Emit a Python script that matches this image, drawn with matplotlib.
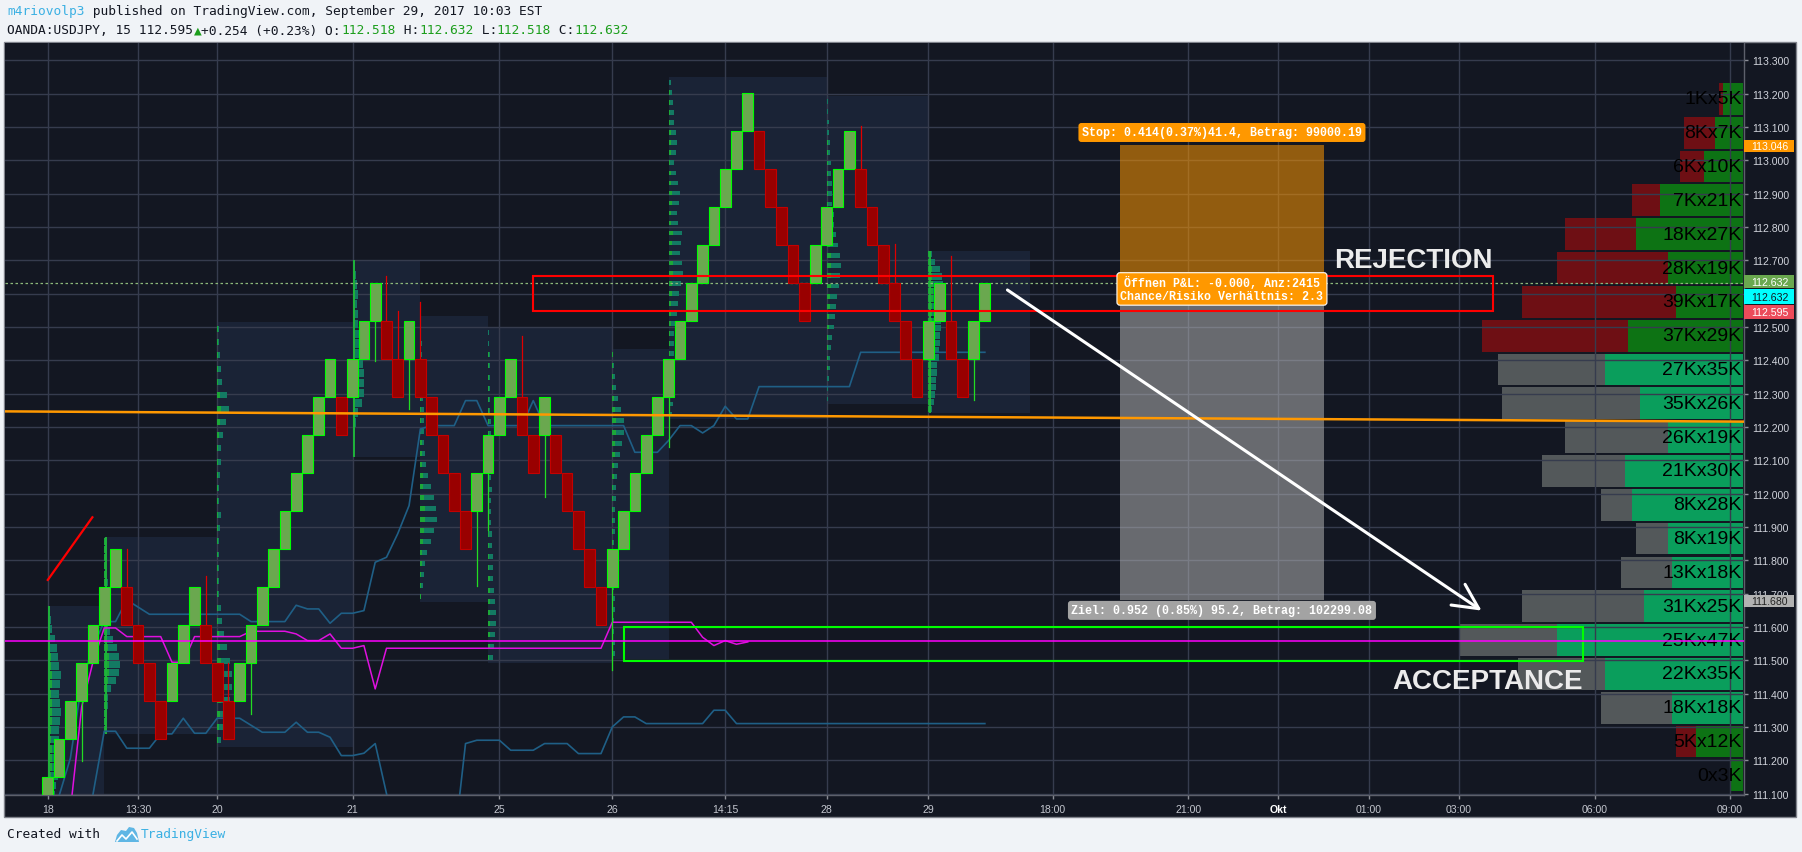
import matplotlib
matplotlib.use("Agg")
import matplotlib.pyplot as plt
import matplotlib.transforms as mtransforms
from matplotlib.patches import Rectangle, Polygon

plt.rcParams['font.family'] = ['Liberation Sans', 'DejaVu Sans']

# ---------------- Renko bricks, OANDA:USDJPY ----------------
brick_open = [111.036, 111.150, 111.264, 111.378, 111.492, 111.606, 111.720,
              111.720, 111.606, 111.492, 111.378,
              111.378, 111.492, 111.606,
              111.606, 111.492, 111.378,
              111.378, 111.492, 111.606, 111.720, 111.834, 111.948, 112.062, 112.176, 112.290,
              112.290,
              112.290, 112.404, 112.518,
              112.518, 112.404,
              112.404,
              112.404, 112.290, 112.176, 112.062, 111.948,
              111.948, 112.062, 112.176, 112.290,
              112.290, 112.176,
              112.176,
              112.176, 112.062, 111.948, 111.834, 111.720,
              111.720, 111.834, 111.948, 112.062, 112.176, 112.290, 112.404, 112.518, 112.632,
              112.746, 112.860, 112.974, 113.088,
              113.088, 112.974, 112.860, 112.746, 112.632,
              112.632, 112.746, 112.860, 112.974,
              112.974, 112.860, 112.746, 112.632, 112.518, 112.404,
              112.404, 112.518,
              112.518, 112.404,
              112.404, 112.518]
brick_close = [111.150, 111.264, 111.378, 111.492, 111.606, 111.720, 111.834,
               111.606, 111.492, 111.378, 111.264,
               111.492, 111.606, 111.720,
               111.492, 111.378, 111.264,
               111.492, 111.606, 111.720, 111.834, 111.948, 112.062, 112.176, 112.290, 112.404,
               112.176,
               112.404, 112.518, 112.632,
               112.404, 112.290,
               112.518,
               112.290, 112.176, 112.062, 111.948, 111.834,
               112.062, 112.176, 112.290, 112.404,
               112.176, 112.062,
               112.290,
               112.062, 111.948, 111.834, 111.720, 111.606,
               111.834, 111.948, 112.062, 112.176, 112.290, 112.404, 112.518, 112.632, 112.746,
               112.860, 112.974, 113.088, 113.202,
               112.974, 112.860, 112.746, 112.632, 112.518,
               112.746, 112.860, 112.974, 113.088,
               112.860, 112.746, 112.632, 112.518, 112.404, 112.290,
               112.518, 112.632,
               112.404, 112.290,
               112.518, 112.632]

# wick extremes (brick index, price)
wick_bar = [3, 7, 14, 16, 18, 29, 30, 31, 32, 33, 38, 39, 42, 44, 50, 55, 72, 75, 80, 82]
wick_price = [111.199, 111.834, 111.752, 111.492, 111.339, 112.399, 112.654, 112.548, 112.254,
              112.575, 111.724, 111.891, 112.473, 111.991, 111.470, 112.140, 113.102, 112.749,
              112.714, 112.282]

# axes labels
price_ticks = [111.1, 111.2, 111.3, 111.4, 111.5, 111.6, 111.7, 111.8, 111.9, 112.0, 112.1, 112.2,
               112.3, 112.4, 112.5, 112.6, 112.7, 112.8, 112.9, 113.0, 113.1, 113.2, 113.3]
time_tick_bar = [0, 8, 15, 27, 40, 50, 60, 69, 78, 89, 101, 109, 117, 125, 137, 149]
time_tick_label = ['18', '13:30', '20', '21', '25', '26', '14:15', '28', '29', '18:00', '21:00',
                   'Okt', '01:00', '03:00', '06:00', '09:00']

# visible range volume profile, rows top -> bottom (thousands)
vp_down = [1, 8, 6, 7, 18, 28, 39, 37, 27, 35, 26, 21, 8, 8, 13, 31, 25, 22, 18, 5, 0]
vp_up = [5, 7, 10, 21, 27, 19, 17, 29, 35, 26, 19, 30, 28, 19, 18, 25, 47, 35, 18, 12, 3]
vp_value_area = [False] * 8 + [True] * 11 + [False] * 2
vp_low, vp_high = 111.104, 113.235

# session volume profiles
session_start = [0, 5, 15, 27, 33, 39, 50, 55, 69, 78]
session_end = [5, 15, 27, 33, 39, 50, 55, 69, 78, 87]
session_low = [111.0, 111.279, 111.240, 112.110, 111.675, 111.492, 111.503, 112.224, 112.269, 112.242]
session_high = [111.662, 111.869, 112.514, 112.701, 112.534, 112.501, 112.434, 113.249, 113.192, 112.729]
session_solid = [True, True, False, True, False, False, False, False, False, True]
session_profile = [
    [0.5, 0.5, 0.6, 0.6, 0.7, 0.9, 1.1, 1.2, 1.1, 1.0, 1.0, 1.1, 1.2, 1.1, 1.0, 1.1, 1.2, 1.0,
     0.9, 0.8, 0.6, 0.4, 0.3, 0.2],
    [0.2, 0.2, 0.2, 0.3, 0.3, 0.6, 1.0, 1.3, 1.4, 1.3, 1.1, 0.8, 0.5, 0.3, 0.3, 0.2, 0.2, 0.3,
     0.3, 0.2, 0.2, 0.2, 0.2, 0.2],
    [0.3, 0.5, 0.8, 1.1, 1.3, 1.3, 1.1, 0.9, 0.6, 0.4, 0.3, 0.2, 0.2, 0.15, 0.2, 0.2, 0.25, 0.3,
     0.2, 0.2, 0.25, 0.3, 0.3, 0.5, 0.8, 1.05, 0.9, 0.4, 0.3, 0.25, 0.2, 0.15],
    [0.1, 0.15, 0.2, 0.3, 0.5, 0.8, 1.0, 1.05, 1.0, 0.9, 0.8, 0.7, 0.6, 0.5, 0.45, 0.4, 0.45,
     0.4, 0.3, 0.2],
    [0.1, 0.2, 0.3, 0.4, 0.6, 0.9, 1.2, 1.5, 1.4, 1.2, 0.9, 0.7, 0.5, 0.4, 0.35, 0.3, 0.3, 0.3,
     0.25, 0.2, 0.2, 0.2, 0.15, 0.15, 0.1, 0.1],
    [0.4, 0.5, 0.6, 0.7, 0.7, 0.6, 0.5, 0.45, 0.4, 0.4, 0.35, 0.35, 0.3, 0.3, 0.3, 0.35, 0.3,
     0.3, 0.25, 0.25, 0.3, 0.25, 0.2, 0.2, 0.2, 0.2, 0.15, 0.15, 0.1, 0.1],
    [0.2, 0.2, 0.15, 0.15, 0.2, 0.2, 0.15, 0.15, 0.1, 0.1, 0.15, 0.2, 0.2, 0.25, 0.3, 0.3, 0.4,
     0.5, 0.7, 0.9, 1.05, 1.0, 0.8, 0.5, 0.3, 0.2, 0.15, 0.1],
    [0.3, 0.4, 0.4, 0.5, 0.4, 0.5, 0.45, 0.5, 0.5, 0.6, 0.7, 0.8, 0.9, 1.1, 1.3, 1.2, 1.0, 1.1,
     1.2, 0.8, 0.7, 0.9, 1.0, 0.8, 0.6, 0.5, 0.6, 0.7, 0.6, 0.5, 0.5, 0.4, 0.3, 0.2],
    [0.1, 0.15, 0.2, 0.3, 0.3, 0.4, 0.5, 0.6, 0.7, 0.8, 0.9, 1.1, 1.2, 1.3, 1.2, 1.0, 0.8, 0.6,
     0.6, 0.5, 0.5, 0.45, 0.4, 0.35, 0.3, 0.25, 0.2, 0.2, 0.15, 0.1],
    [0.3, 0.5, 0.6, 0.7, 0.7, 0.8, 0.8, 0.9, 0.9, 1.0, 1.0, 1.1, 1.1, 1.2, 1.2, 1.3, 1.3, 1.3,
     1.2, 1.0, 0.6, 0.3],
]

# indicator lines (bar index, price)
band_upper_bar = [0, 2, 3, 4, 5, 6, 7, 9, 17, 18, 21, 22, 23, 24, 25, 26, 27, 28, 29, 30, 31,
                  32, 33, 34, 36, 37, 38, 39, 42, 43, 44, 51, 52, 54, 55, 56, 57, 58, 59, 60,
                  61, 62, 63, 71, 72, 83]
band_upper_price = [110.98, 111.206, 111.43, 111.54, 111.616, 111.616, 111.681, 111.638,
                    111.638, 111.616, 111.616, 111.665, 111.654, 111.654, 111.611, 111.641,
                    111.641, 111.649, 111.794, 111.809, 111.88, 111.964, 112.194, 112.204,
                    112.204, 112.279, 112.279, 112.204, 112.204, 112.279, 112.204, 112.204,
                    112.124, 112.124, 112.16, 112.204, 112.204, 112.182, 112.204, 112.262,
                    112.224, 112.224, 112.321, 112.321, 112.424, 112.424]
band_lower_bar = [3, 4, 5, 6, 7, 9, 10, 11, 12, 13, 14, 15, 17, 19, 21, 22, 23, 24, 25, 26,
                  27, 28, 29, 30, 31, 36, 37, 38, 40, 41, 43, 44, 46, 47, 49, 50, 51, 52, 53,
                  58, 59, 60, 61, 83]
band_lower_price = [110.95, 111.097, 111.287, 111.287, 111.236, 111.236, 111.279, 111.279,
                    111.326, 111.281, 111.281, 111.326, 111.326, 111.284, 111.284, 111.314,
                    111.284, 111.284, 111.269, 111.214, 111.214, 111.221, 111.25, 111.10,
                    110.95, 110.95, 111.25, 111.26, 111.26, 111.23, 111.23, 111.25, 111.25,
                    111.22, 111.22, 111.30, 111.33, 111.33, 111.31, 111.31, 111.35, 111.35,
                    111.31, 111.31]
vwap_bar = [2, 3, 4, 5, 6, 7, 10, 11, 12, 13, 17, 18, 21, 22, 23, 24, 25, 26, 27, 28, 29, 30,
            49, 50, 57, 58, 59, 60, 61, 62]
vwap_price = [111.05, 111.36, 111.494, 111.597, 111.597, 111.571, 111.571, 111.494, 111.494,
              111.571, 111.571, 111.587, 111.587, 111.579, 111.559, 111.559, 111.579, 111.536,
              111.536, 111.544, 111.414, 111.536, 111.536, 111.614, 111.614, 111.569, 111.544,
              111.559, 111.548, 111.555]

# drawings
last_price = 112.632
cyan_level = 112.632
prev_level = 112.595
trend_points = [(0, 112.246), (150, 112.216)]
support_level = 111.557
slash_bar = [0, 3.95]
slash_price = [111.741, 111.929]
rejection_zone = (43, 128, 112.547, 112.652)
acceptance_zone = (51, 136, 111.497, 111.601)
arrow_from = (85, 112.611)
arrow_to = (127, 111.649)

# short position tool
entry_price = 112.632
stop_dist = 0.414
target_dist = 0.952
tool_bars = (95, 113)

# ---------------- figure ----------------
FW, FH = 1802.0, 853.0
fig = plt.figure(figsize=(FW / 100, FH / 100), dpi=100)
fig.patch.set_facecolor('#f0f3f7')

fig.add_artist(Rectangle((4 / FW, 1 - 818 / FH), 1792 / FW, 775 / FH, transform=fig.transFigure,
                         facecolor='#131722', edgecolor='#80838c', linewidth=1.0, zorder=0))

ax = fig.add_axes([5 / FW, 1 - 796 / FH, 1739 / FW, 752 / FH])
ax.set_facecolor('#131722')
ax.set_xlim(-3.79, 150.24)
ax.set_ylim(111.0957, 113.352)
ax.set_axisbelow(True)
for side in ('top', 'left'):
    ax.spines[side].set_visible(False)
for side in ('right', 'bottom'):
    ax.spines[side].set_color('#5d606b')
    ax.spines[side].set_linewidth(1.0)

ax.yaxis.tick_right()
ax.set_yticks(price_ticks)
ax.set_yticklabels([f'{p:.3f}' for p in price_ticks])
ax.set_xticks(time_tick_bar)
ax.set_xticklabels(time_tick_label)
ax.tick_params(axis='y', length=3, width=1, color='#8a8d96', labelcolor='#d1d4dc',
               labelsize=7.6, pad=2.6)
ax.tick_params(axis='x', length=3, width=1, color='#8a8d96', labelcolor='#c3c6ce',
               labelsize=7.6, pad=3.2)
for lbl in ax.get_xticklabels():
    if lbl.get_text() == 'Okt':
        lbl.set_fontweight('bold')
        lbl.set_color('white')
ax.grid(True, color='#363c4e', linewidth=1.0)

ppx = 752.0 / (113.352 - 111.0957)   # pixels per price unit
bar_px = 1739.0 / (150.24 + 3.79)    # pixels per bar

# session boxes and their volume profiles
for s0, s1, lo, hi, solid, prof in zip(session_start, session_end, session_low, session_high,
                                       session_solid, session_profile):
    ax.add_patch(Rectangle((s0, lo), s1 - s0, hi - lo, facecolor='#1a2336', edgecolor='none',
                           zorder=0.2))
    n = len(prof)
    step = (hi - lo) / n
    centers = [lo + (k + 0.5) * step for k in range(n)]
    fill = 0.85 if solid else 0.45
    ax.barh(centers, prof, height=step * fill, left=s0, color='#137a63', edgecolor='none',
            zorder=1.0)
    ax.barh(centers, [v * 0.3 for v in prof], height=step * fill, left=s0, color='#1ca838',
            edgecolor='none', zorder=1.05)
    if solid:
        ax.plot([s0 + 0.12, s0 + 0.12], [lo, hi], color='#1fb33a', lw=1.4, zorder=1.1,
                solid_capstyle='butt')

# right-hand volume profile
vp_trans = mtransforms.blended_transform_factory(ax.transAxes, ax.transData)
k_frac = 3.95 / 1739.0
vp_right = 1738.0 / 1739.0
row_h = (vp_high - vp_low) / len(vp_up)
for r, (dn, up, va) in enumerate(zip(vp_down, vp_up, vp_value_area)):
    top = vp_high - r * row_h
    y0 = top - row_h + 0.03 * row_h
    c_up, c_dn = ('#0a9e5c', '#53585a') if va else ('#0d7314', '#6e0f14')
    ax.add_patch(Rectangle((vp_right - up * k_frac, y0), up * k_frac, row_h * 0.94,
                           transform=vp_trans, facecolor=c_up, edgecolor='none', zorder=0.4))
    ax.add_patch(Rectangle((vp_right - (up + dn) * k_frac, y0), dn * k_frac, row_h * 0.94,
                           transform=vp_trans, facecolor=c_dn, edgecolor='none', zorder=0.4))
    label = (f'{dn}K' if dn else '0') + 'x' + (f'{up}K' if up else '0')
    ax.text(1736.5 / 1739.0, top - row_h / 2, label, transform=vp_trans, ha='right',
            va='center', fontsize=14, color='black', zorder=4.4)

# indicator lines
ax.plot(band_upper_bar, band_upper_price, color='#1f5f86', lw=1.2, zorder=1.5)
ax.plot(band_lower_bar, band_lower_price, color='#1f5f86', lw=1.2, zorder=1.5)
ax.plot(vwap_bar, vwap_price, color='#e010e0', lw=1.1, zorder=1.6)

# position tool
stop_price = entry_price + stop_dist
target_price = entry_price - target_dist
tx0, tx1 = tool_bars
tmid = (tx0 + tx1) / 2
ax.add_patch(Rectangle((tx0, entry_price), tx1 - tx0, stop_dist, facecolor='#ff9800',
                       alpha=0.54, edgecolor='none', zorder=2))
ax.add_patch(Rectangle((tx0, target_price), tx1 - tx0, target_dist, facecolor='#bdbdbd',
                       alpha=0.5, edgecolor='none', zorder=2))
lab_font = dict(family=['Liberation Mono', 'DejaVu Sans Mono'], fontweight='bold', fontsize=8.4,
                color='white', ha='center', va='center', zorder=7)
ax.annotate(f'Stop: {stop_dist:.3f}(0.37%)41.4, Betrag: 99000.19', xy=(tmid, stop_price),
            xytext=(0, 9), textcoords='offset points',
            bbox=dict(boxstyle='round,pad=0.3,rounding_size=0.25', fc='#ff9800', ec='none'),
            **lab_font)
ax.annotate('Öffnen P&L: -0.000, Anz:2415\nChance/Risiko Verhältnis: 2.3',
            xy=(tmid, entry_price), xytext=(0, -4.3), textcoords='offset points',
            linespacing=1.05,
            bbox=dict(boxstyle='round,pad=0.3,rounding_size=0.25', fc='#ff9800', ec='white',
                      lw=0.8), **lab_font)
ax.annotate(f'Ziel: {target_dist:.3f} (0.85%) 95.2, Betrag: 102299.08', xy=(tmid, target_price),
            xytext=(0, -7.3), textcoords='offset points',
            bbox=dict(boxstyle='round,pad=0.3,rounding_size=0.25', fc='#a3a3a3', ec='none'),
            **lab_font)

# bricks and wicks
idx = list(range(len(brick_close)))
is_up = [c > o for o, c in zip(brick_open, brick_close)]
ax.bar(idx, [abs(c - o) for o, c in zip(brick_open, brick_close)],
       bottom=[min(o, c) for o, c in zip(brick_open, brick_close)], width=0.95,
       color=['#6aa84f' if u else '#990000' for u in is_up],
       edgecolor=['#00ff00' if u else '#c40000' for u in is_up], linewidth=0.8, zorder=3)
for b, p in zip(wick_bar, wick_price):
    o, c = brick_open[b], brick_close[b]
    edge = max(o, c) if p > max(o, c) else min(o, c)
    ax.plot([b, b], [edge, p], color='#22dd22' if is_up[b] else '#e00000', lw=0.9, zorder=2.9)

# lines and zones
ax.axhline(last_price, color='#8db87a', lw=0.9, ls=(0, (2, 2)), zorder=2.5)
ax.axline(trend_points[0], trend_points[1], color='#ff9800', lw=1.8, zorder=4)
ax.axhline(support_level, color='#ff00ff', lw=1.1, zorder=4.6)
ax.plot(slash_bar, slash_price, color='#ff0000', lw=1.6, zorder=4)
rx0, rx1, rlo, rhi = rejection_zone
ax.add_patch(Rectangle((rx0, rlo), rx1 - rx0, rhi - rlo, fill=False, edgecolor='#ff0000',
                       lw=1.5, zorder=4))
ax0, ax1, alo, ahi = acceptance_zone
ax.add_patch(Rectangle((ax0, alo), ax1 - ax0, ahi - alo, fill=False, edgecolor='#00ff00',
                       lw=1.5, zorder=4))
ax.annotate('REJECTION', xy=(rx1, rhi), xytext=(0, 6.5), textcoords='offset points',
            ha='right', va='baseline', fontsize=20, fontweight='bold', color='#ececec', zorder=5)
ax.annotate('ACCEPTANCE', xy=(ax1, alo), xytext=(0, -19.4), textcoords='offset points',
            ha='right', va='baseline', fontsize=20, fontweight='bold', color='#ececec', zorder=5)
ax.annotate('', xy=arrow_to, xytext=arrow_from,
            arrowprops=dict(arrowstyle='->,head_length=0.9,head_width=0.45', color='white',
                            lw=2.2, mutation_scale=20, shrinkA=0, shrinkB=0), zorder=5)

# price-scale tags
def price_tag(price, fc, tc, dy_px, h_px):
    yc = price - dy_px / ppx
    h = h_px / ppx
    ax.add_patch(Rectangle((1.0, yc - h / 2), 50 / 1739.0, h, transform=vp_trans, facecolor=fc,
                           edgecolor='none', clip_on=False, zorder=10))
    ax.text(1.0 + 7.5 / 1739.0, yc, f'{price:.3f}', transform=vp_trans, ha='left', va='center',
            fontsize=7.6, color=tc, clip_on=False, zorder=11)

price_tag(stop_price, '#ff9800', 'white', 1.5, 12)
price_tag(last_price, '#6aa84f', 'white', -1.3, 13)
price_tag(cyan_level, '#00ffff', '#131722', 14, 15)
price_tag(prev_level, '#ec4b5a', 'white', 16.6, 14)
price_tag(target_price, '#b2b2b2', '#222222', 1.2, 12)

# header and footer
mono = ['DejaVu Sans Mono', 'DejaVu Sans']
hdr_size = 9.3
char_w = hdr_size * 100 / 72 * 0.602
dark, blue, green = '#131722', '#3bb0e3', '#1c9e1c'

def text_run(segments, x, y):
    col = 0
    for txt, color in segments:
        fig.text((x + col * char_w) / FW, 1 - y / FH, txt, family=mono, fontsize=hdr_size,
                 color=color, ha='left', va='center')
        col += len(txt)

text_run([('m4riovolp3', blue),
          (' published on TradingView.com, September 29, 2017 10:03 EST', dark)], 7, 11.5)
text_run([('OANDA:USDJPY, 15 112.595', dark), ('▲', green), ('+0.254 (+0.23%) O:', dark),
          ('112.518', green), (' H:', dark), ('112.632', green), (' L:', dark),
          ('112.518', green), (' C:', dark), ('112.632', green)], 7, 31)
text_run([('Created with', dark)], 7, 835)
logo = [(115, 843), (117, 836), (121, 831), (126, 832), (129, 828), (134, 829), (137, 834),
        (139, 843)]
fig.add_artist(Polygon([(x / FW, 1 - y / FH) for x, y in logo], closed=True,
                       transform=fig.transFigure, facecolor='#5fb6e4', edgecolor='none'))
zig = [(117, 842), (122, 836), (126, 840), (132, 833), (137, 840)]
fig.add_artist(plt.Line2D([x / FW for x, y in zig], [1 - y / FH for x, y in zig],
                          transform=fig.transFigure, color='white', lw=1.2))
text_run([('TradingView', blue)], 141, 835)

fig.savefig('out.png', dpi=100, facecolor=fig.get_facecolor())
